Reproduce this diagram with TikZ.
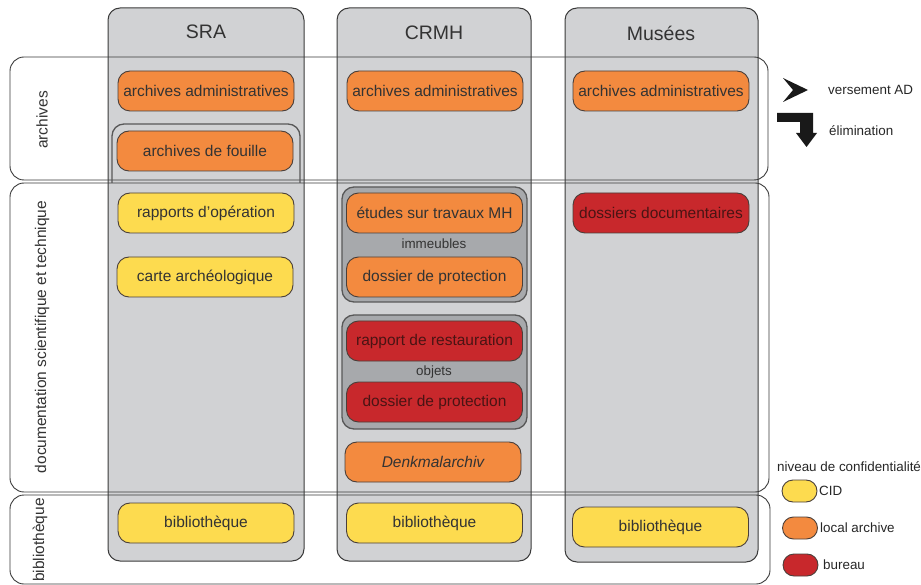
\documentclass[tikz,border=0pt]{standalone}
\usepackage{fontspec}
\setmainfont{Liberation Sans}
\definecolor{colgray}{HTML}{D1D2D4}
\definecolor{grpgray}{HTML}{A7A9AC}
\definecolor{lineDk}{HTML}{3A3A3A}
\definecolor{boxline}{HTML}{4A3F3A}
\definecolor{orangec}{HTML}{F38A3F}
\definecolor{yellowc}{HTML}{FDDB4F}
\definecolor{redc}{HTML}{C8282C}
\definecolor{textdk}{HTML}{333333}
\definecolor{textred}{HTML}{4A1414}
\newcommand\dgboxfont{\fontsize{15.5}{18}\selectfont}
\newcommand\dghdfont{\fontsize{19.5}{23}\selectfont}
\newcommand\dgsmfont{\fontsize{13.4}{16}\selectfont}
\begin{document}
\begin{tikzpicture}[x=1pt,y=-1pt,
  colbox/.style={draw=lineDk, fill=colgray, line width=1pt, rounded corners=12pt},
  bandbox/.style={draw=lineDk, line width=0.9pt, rounded corners=14pt},
  grpbox/.style={draw=lineDk!85, fill=grpgray, line width=1.3pt, rounded corners=12pt},
  pill/.style={draw=boxline, line width=0.9pt, rounded corners=12pt, minimum width=176pt, minimum height=40pt, inner sep=0pt, font=\dgboxfont, text=textdk},
  obox/.style={pill, fill=orangec},
  ybox/.style={pill, fill=yellowc},
  rbox/.style={pill, fill=redc, text=textred},
  hd/.style={font=\dghdfont, text=textdk},
  rowlab/.style={font=\dgboxfont, text=textdk, rotate=90},
  grplab/.style={font=\dgsmfont, text=textdk},
  legtxt/.style={font=\dgsmfont, text=black!85, anchor=west, inner sep=0pt},
  legpill/.style={draw=boxline, line width=0.9pt, rounded corners=11pt, minimum width=35pt, minimum height=22pt, inner sep=0pt}
]
\useasboundingbox (0,0) rectangle (921,585);
% columns
\draw[colbox] (108,8) rectangle (304,561);
\draw[colbox] (337,8) rectangle (531,561);
\draw[colbox] (565,8) rectangle (758,562);
% bands
\draw[bandbox] (10,57) rectangle (768,180);
\draw[bandbox] (10,183) rectangle (769,492);
\draw[bandbox] (10,495) rectangle (770,584);
% headers
\node[hd] (hsra) at (206,32) {SRA};
\node[hd] (hcrmh) at (434,33) {CRMH};
\node[hd] (hmus) at (661,33) {Musées};
% row labels
\node[rowlab] (larch) at (42,120) {archives};
\node[rowlab] (ldoc) at (42,337) {documentation scientifique et technique};
\node[rowlab] (lbib) at (40,540) {bibliothèque};
% SRA
\draw[draw=lineDk!85, line width=1.3pt, rounded corners=12pt] (112,183) -- (112,124) -- (300,124) -- (300,183);
\node[obox] (s1) at (206,91) {archives administratives};
\node[obox] (s2) at (205,151) {archives de fouille};
\node[ybox] (s3) at (206,213) {rapports d’opération};
\node[ybox] (s4) at (205,277) {carte archéologique};
\node[ybox] (s5) at (206,523) {bibliothèque};
% CRMH
\node[obox] (c1) at (435,91) {archives administratives};
\draw[grpbox] (342,187) rectangle (527,302);
\draw[grpbox] (342,315) rectangle (527,429);
\node[obox] (c2) at (434.5,213) {études sur travaux MH};
\node[grplab] (gimm) at (434,244) {immeubles};
\node[obox] (c3) at (434.5,277) {dossier de protection};
\node[rbox] (c4) at (434.5,341) {rapport de restauration};
\node[grplab] (gobj) at (434,372) {objets};
\node[rbox] (c5) at (434.5,402) {dossier de protection};
\node[obox] (c6) at (433,462) {\itshape Denkmalarchiv};
\node[ybox] (c7) at (434.5,523) {bibliothèque};
% Musees
\node[obox] (m1) at (661,91) {archives administratives};
\node[rbox] (m2) at (661,213) {dossiers documentaires};
\node[ybox] (m3) at (660.5,527) {bibliothèque};
% legend arrows
\fill[black!90] (783,78) -- (808,90) -- (783,102) -- (793,90) -- cycle;
\node[legtxt] (tvers) at (828,90) {versement AD};
\fill[black!90] (777,113) -- (813,113) -- (813,133) -- (817,133) -- (806.5,147) -- (796,133) -- (800,133) -- (800,122) -- (777,122) -- cycle;
\node[legtxt] (telim) at (829,131) {élimination};
% legend confidentiality
\node[legtxt] (tniv) at (777,467) {niveau de confidentialité};
\node[legpill, fill=yellowc] (pcid) at (799.5,491) {};
\node[legtxt] (tcid) at (819,491) {CID};
\node[legpill, fill=orangec] (ploc) at (800,528) {};
\node[legtxt] (tloc) at (820,528) {local archive};
\node[legpill, fill=redc] (pbur) at (800.5,565) {};
\node[legtxt] (tbur) at (823,565) {bureau};
\end{tikzpicture}
\end{document}
